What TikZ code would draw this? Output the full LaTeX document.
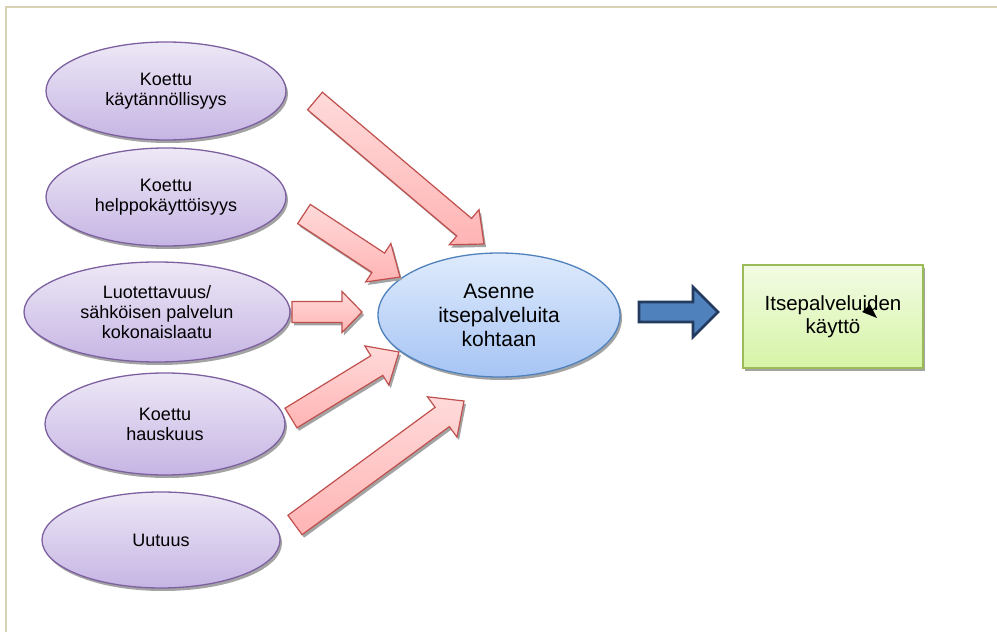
\documentclass[tikz,border=0pt]{standalone}
\usepackage{fontspec}
\setmainfont{Liberation Sans}
\usetikzlibrary{calc,shadows,shapes.geometric}

\definecolor{framecol}{HTML}{D6D2B2}
\definecolor{factortop}{HTML}{EDE8F6}
\definecolor{factorbot}{HTML}{C6B5E4}
\definecolor{factorline}{HTML}{7D60A0}
\definecolor{attitop}{HTML}{DFEBFC}
\definecolor{attibot}{HTML}{A6C4F4}
\definecolor{attiline}{HTML}{4F81BD}
\definecolor{redtop}{HTML}{FFDADA}
\definecolor{redbot}{HTML}{FFB4B4}
\definecolor{redline}{HTML}{C0504D}
\definecolor{bluefill}{HTML}{4F81BD}
\definecolor{blueline}{HTML}{223B5E}
\definecolor{usetop}{HTML}{F2FBE4}
\definecolor{usebot}{HTML}{D6F4A6}
\definecolor{useline}{HTML}{9BBB59}
\definecolor{shadowcol}{HTML}{A3A3A3}

\tikzset{
  softshadow/.style={drop shadow={shadow xshift=2pt,shadow yshift=-3pt,fill=shadowcol,opacity=1}},
  factor/.style={ellipse, draw=factorline, line width=1.3pt,
    top color=factortop, bottom color=factorbot, softshadow,
    minimum width=240pt, minimum height=98pt, inner sep=0pt, align=center,
    font=\fontsize{18}{20}\selectfont},
  attitude/.style={ellipse, draw=attiline, line width=1.3pt,
    top color=attitop, bottom color=attibot, softshadow,
    minimum width=242pt, minimum height=124pt, inner sep=0pt, align=center,
    font=\fontsize{21}{24}\selectfont},
  usage/.style={rectangle, draw=useline, line width=1.5pt,
    top color=usetop, bottom color=usebot, softshadow,
    minimum width=180pt, minimum height=103pt, inner sep=0pt, align=center,
    font=\fontsize{20.5}{23}\selectfont},
  redarrow/.style={draw=redline, line width=1.2pt, line join=miter,
    top color=redtop, bottom color=redbot, softshadow},
  bluearrow/.style={draw=blueline, line width=2.6pt, line join=miter,
    fill=bluefill},
}

% block arrow: tail, tip, shaft half-width, head half-width, head length, style
\newcommand\blockarrow[6]{%
  \coordinate (ba-base) at ($(#2)!#5!(#1)$);
  \path[#6] ($(#1)!#3!90:(#2)$) -- ($(ba-base)!#3!-90:(#1)$)
    -- ($(ba-base)!#4!-90:(#1)$) -- (#2)
    -- ($(ba-base)!#4!90:(#1)$) -- ($(ba-base)!#3!90:(#1)$)
    -- ($(#1)!#3!-90:(#2)$) -- cycle;
}

\begin{document}
\begin{tikzpicture}[x=1pt,y=1pt]
\useasboundingbox (0,0) rectangle (997,632);
\fill[white] (0,0) rectangle (997,632);

% page frame
\draw[framecol, line width=2pt] (6,-5) -- (6,625) -- (1005,625);

% influencing factors
\node[factor] (f1) at (166,541) {Koettu\\käytännöllisyys};
\node[factor] (f2) at (166,435) {Koettu\\helppokäyttöisyys};
\node[factor, minimum width=266pt, minimum height=100pt] (f3) at (157,320)
  {Luotettavuus/\\sähköisen palvelun\\kokonaislaatu};
\node[factor, minimum height=102pt] (f4) at (165,208) {Koettu\\hauskuus};
\node[factor, minimum width=238pt, minimum height=96pt] (f5) at (161,92) {Uutuus};

% attitude and usage
\node[attitude] (att) at (499,317) {Asenne\\itsepalveluita\\kohtaan};
\node[usage] (use) at (833,315.5) {Itsepalveluiden\\käyttö};

% arrow end points
\coordinate (t1) at (315,531);  \coordinate (h1) at (484,388);
\coordinate (t2) at (304,418);  \coordinate (h2) at (400,355);
\coordinate (t3) at (292,320);  \coordinate (h3) at (362,320);
\coordinate (t4) at (291,214);  \coordinate (h4) at (399,280);
\coordinate (t5) at (295,107);  \coordinate (h5) at (464,231);
\coordinate (tb) at (639,320);  \coordinate (hb) at (718,320);

\blockarrow{t1}{h1}{11.5pt}{23pt}{26pt}{redarrow}
\blockarrow{t2}{h2}{11.5pt}{23pt}{26pt}{redarrow}
\blockarrow{t3}{h3}{10.5pt}{20.5pt}{20pt}{redarrow}
\blockarrow{t4}{h4}{11.5pt}{23pt}{26pt}{redarrow}
\blockarrow{t5}{h5}{12pt}{25pt}{27pt}{redarrow}
\blockarrow{tb}{hb}{10pt}{25pt}{25pt}{bluearrow}

% small arrowhead over the usage label
\fill[black] (862,320) -- (870,327.5) -- (877,314) -- cycle;
\end{tikzpicture}
\end{document}
